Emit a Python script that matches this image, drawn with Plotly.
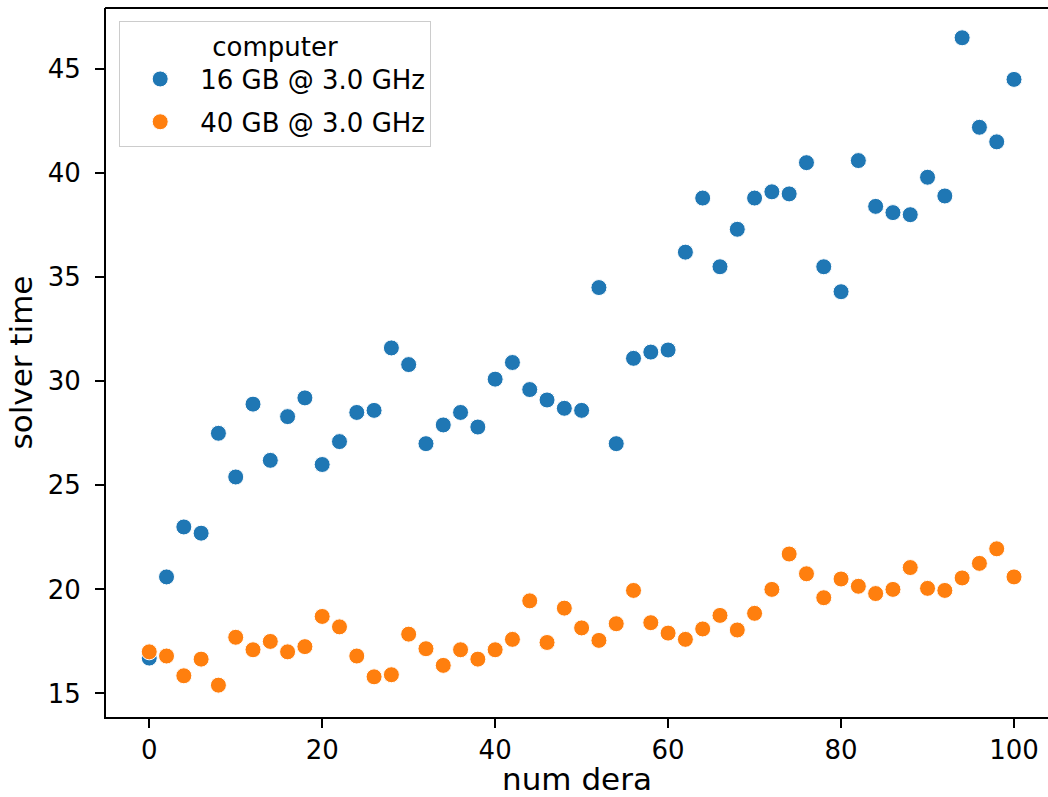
import plotly.graph_objects as go

num_dera = [0, 2, 4, 6, 8, 10, 12, 14, 16, 18, 20, 22, 24, 26, 28, 30, 32, 34, 36, 38,
            40, 42, 44, 46, 48, 50, 52, 54, 56, 58, 60, 62, 64, 66, 68, 70, 72, 74, 76, 78,
            80, 82, 84, 86, 88, 90, 92, 94, 96, 98, 100]

time_16gb = [16.7, 20.6, 23.0, 22.7, 27.5, 25.4, 28.9, 26.2, 28.3, 29.2, 26.0, 27.1, 28.5,
             28.6, 31.6, 30.8, 27.0, 27.9, 28.5, 27.8, 30.1, 30.9, 29.6, 29.1, 28.7, 28.6,
             34.5, 27.0, 31.1, 31.4, 31.5, 36.2, 38.8, 35.5, 37.3, 38.8, 39.1, 39.0, 40.5,
             35.5, 34.3, 40.6, 38.4, 38.1, 38.0, 39.8, 38.9, 46.5, 42.2, 41.5, 44.5]

time_40gb = [17.0, 16.8, 15.85, 16.65, 15.4, 17.7, 17.1, 17.5, 17.0, 17.25, 18.7, 18.2, 16.8,
             15.8, 15.9, 17.85, 17.15, 16.35, 17.1, 16.65, 17.1, 17.6, 19.45, 17.45, 19.1,
             18.15, 17.55, 18.35, 19.95, 18.4, 17.9, 17.6, 18.1, 18.75, 18.05, 18.85, 20.0,
             21.7, 20.75, 19.6, 20.5, 20.15, 19.8, 20.0, 21.05, 20.05, 19.95, 20.55, 21.25,
             21.95, 20.6]

series_names = ["16 GB @ 3.0 GHz", "40 GB @ 3.0 GHz"]
x_ticks = [0, 20, 40, 60, 80, 100]
y_ticks = [15, 20, 25, 30, 35, 40, 45]

FONT = "DejaVu Sans"
FS = 26

fig = go.Figure()
for i, (name, ys, col) in enumerate([(series_names[0], time_16gb, "#1f77b4"),
                                     (series_names[1], time_40gb, "#ff7f0e")]):
    fig.add_trace(go.Scatter(
        x=num_dera, y=ys, mode="markers", name=name, legendgroup=f"g{i}",
        marker=dict(color=col, size=16, line=dict(color="white", width=1)),
    ))

fig.update_layout(
    width=1048, height=797,
    margin=dict(l=106, r=0, t=8, b=80),
    plot_bgcolor="white", paper_bgcolor="white",
    font=dict(family=FONT, size=FS, color="black"),
    legend=dict(
        x=0.014, y=0.982, xanchor="left", yanchor="top",
        bgcolor="rgba(255,255,255,0.8)", bordercolor="#cccccc", borderwidth=1,
        title=dict(text="computer", side="top center", font=dict(size=FS)),
        font=dict(size=FS), itemwidth=70, tracegroupgap=6, traceorder="grouped",
    ),
    xaxis=dict(
        range=[-5, 103.93], tickvals=x_ticks, showgrid=False, zeroline=False,
        showline=True, linecolor="black", linewidth=2, mirror=False,
        ticks="outside", ticklen=9, tickwidth=2, tickcolor="black",
        title=dict(text="num dera", standoff=17), automargin=False,
    ),
    yaxis=dict(
        range=[13.87, 47.93], tickvals=y_ticks, showgrid=False, zeroline=False,
        showline=True, linecolor="black", linewidth=2, mirror=False,
        ticks="outside", ticklen=9, tickwidth=2, tickcolor="black",
        ticklabelstandoff=9, automargin=False,
        title=dict(text="solver time", standoff=6),
    ),
    shapes=[dict(type="line", xref="paper", yref="paper", x0=-0.001, x1=1.0, y0=1, y1=1,
                 line=dict(color="black", width=2))],
)

fig.write_html("out.html", config={"displayModeBar": False},
               post_script="document.body.style.margin='0';document.body.style.overflow='hidden';")
